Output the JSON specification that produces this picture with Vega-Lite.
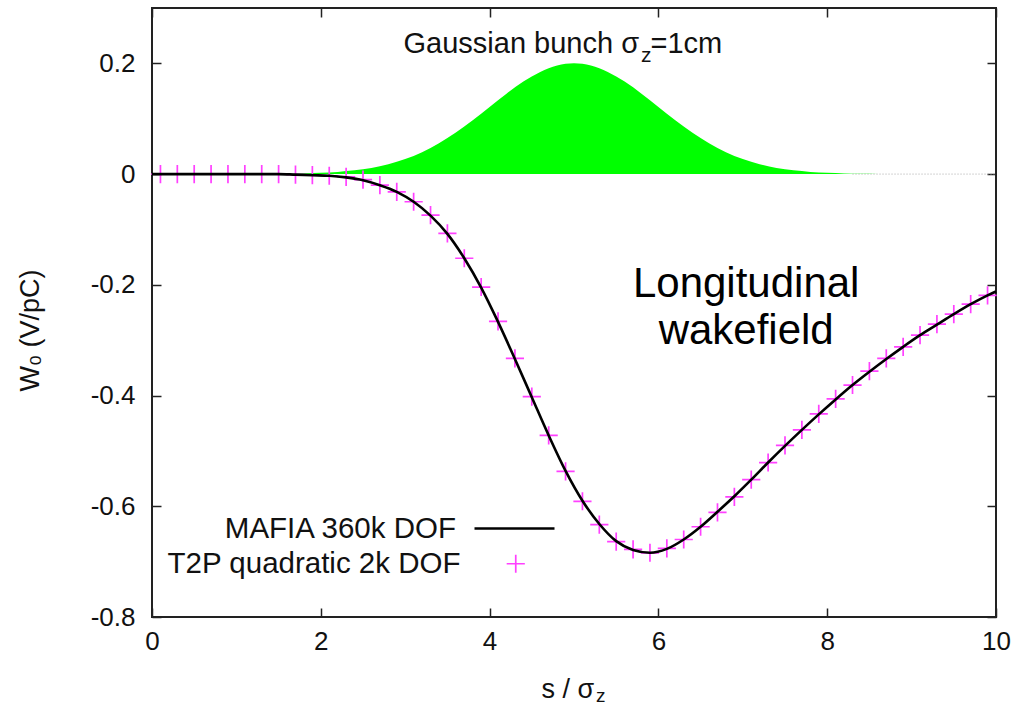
{
  "$schema": "https://vega.github.io/schema/vega-lite/v6.json",
  "width": 844,
  "height": 609,
  "autosize": {"type": "none"},
  "padding": {"left": 152, "top": 8, "right": 36, "bottom": 88},
  "background": "white",
  "datasets": {
    "bunch": [
      {"s": 0, "q": 0}, {"s": 0.4, "q": 0}, {"s": 0.8, "q": 0}, {"s": 1.0, "q": 0.00003},
      {"s": 1.2, "q": 0.00015}, {"s": 1.4, "q": 0.0003}, {"s": 1.6, "q": 0.0006}, {"s": 1.8, "q": 0.0012},
      {"s": 2.0, "q": 0.0022}, {"s": 2.2, "q": 0.0040}, {"s": 2.4, "q": 0.0068}, {"s": 2.6, "q": 0.0112},
      {"s": 2.8, "q": 0.0178}, {"s": 3.0, "q": 0.0271}, {"s": 3.2, "q": 0.0396}, {"s": 3.4, "q": 0.0556},
      {"s": 3.6, "q": 0.0751}, {"s": 3.8, "q": 0.0974}, {"s": 4.0, "q": 0.1213}, {"s": 4.2, "q": 0.1452},
      {"s": 4.4, "q": 0.1671}, {"s": 4.6, "q": 0.1846}, {"s": 4.8, "q": 0.1960}, {"s": 5.0, "q": 0.2},
      {"s": 5.2, "q": 0.1960}, {"s": 5.4, "q": 0.1846}, {"s": 5.6, "q": 0.1671}, {"s": 5.8, "q": 0.1452},
      {"s": 6.0, "q": 0.1213}, {"s": 6.2, "q": 0.0974}, {"s": 6.4, "q": 0.0751}, {"s": 6.6, "q": 0.0556},
      {"s": 6.8, "q": 0.0396}, {"s": 7.0, "q": 0.0271}, {"s": 7.2, "q": 0.0178}, {"s": 7.4, "q": 0.0112},
      {"s": 7.6, "q": 0.0068}, {"s": 7.8, "q": 0.0040}, {"s": 8.0, "q": 0.0022}, {"s": 8.2, "q": 0.0012},
      {"s": 8.4, "q": 0.0006}, {"s": 8.6, "q": 0.0003}, {"s": 8.8, "q": 0.00015}, {"s": 9.0, "q": 0.00003},
      {"s": 9.4, "q": 0}, {"s": 10.0, "q": 0}
    ],
    "mafia": [
      {"s": 0, "w": 0, "series": "MAFIA 360k DOF"}, {"s": 0.5, "w": 0, "series": "MAFIA 360k DOF"},
      {"s": 1.0, "w": 0, "series": "MAFIA 360k DOF"}, {"s": 1.5, "w": 0, "series": "MAFIA 360k DOF"},
      {"s": 1.7, "w": -0.001, "series": "MAFIA 360k DOF"}, {"s": 1.9, "w": -0.002, "series": "MAFIA 360k DOF"},
      {"s": 2.1, "w": -0.003, "series": "MAFIA 360k DOF"}, {"s": 2.3, "w": -0.006, "series": "MAFIA 360k DOF"},
      {"s": 2.5, "w": -0.011, "series": "MAFIA 360k DOF"}, {"s": 2.7, "w": -0.020, "series": "MAFIA 360k DOF"},
      {"s": 2.9, "w": -0.032, "series": "MAFIA 360k DOF"}, {"s": 3.1, "w": -0.050, "series": "MAFIA 360k DOF"},
      {"s": 3.3, "w": -0.075, "series": "MAFIA 360k DOF"}, {"s": 3.5, "w": -0.108, "series": "MAFIA 360k DOF"},
      {"s": 3.7, "w": -0.152, "series": "MAFIA 360k DOF"}, {"s": 3.9, "w": -0.205, "series": "MAFIA 360k DOF"},
      {"s": 4.1, "w": -0.267, "series": "MAFIA 360k DOF"}, {"s": 4.3, "w": -0.334, "series": "MAFIA 360k DOF"},
      {"s": 4.5, "w": -0.403, "series": "MAFIA 360k DOF"}, {"s": 4.7, "w": -0.472, "series": "MAFIA 360k DOF"},
      {"s": 4.9, "w": -0.536, "series": "MAFIA 360k DOF"}, {"s": 5.1, "w": -0.590, "series": "MAFIA 360k DOF"},
      {"s": 5.3, "w": -0.632, "series": "MAFIA 360k DOF"}, {"s": 5.5, "w": -0.663, "series": "MAFIA 360k DOF"},
      {"s": 5.7, "w": -0.679, "series": "MAFIA 360k DOF"}, {"s": 5.9, "w": -0.684, "series": "MAFIA 360k DOF"},
      {"s": 6.1, "w": -0.677, "series": "MAFIA 360k DOF"}, {"s": 6.3, "w": -0.660, "series": "MAFIA 360k DOF"},
      {"s": 6.5, "w": -0.637, "series": "MAFIA 360k DOF"}, {"s": 6.7, "w": -0.610, "series": "MAFIA 360k DOF"},
      {"s": 6.9, "w": -0.582, "series": "MAFIA 360k DOF"}, {"s": 7.1, "w": -0.552, "series": "MAFIA 360k DOF"},
      {"s": 7.3, "w": -0.521, "series": "MAFIA 360k DOF"}, {"s": 7.5, "w": -0.491, "series": "MAFIA 360k DOF"},
      {"s": 7.7, "w": -0.462, "series": "MAFIA 360k DOF"}, {"s": 7.9, "w": -0.434, "series": "MAFIA 360k DOF"},
      {"s": 8.1, "w": -0.407, "series": "MAFIA 360k DOF"}, {"s": 8.3, "w": -0.381, "series": "MAFIA 360k DOF"},
      {"s": 8.5, "w": -0.357, "series": "MAFIA 360k DOF"}, {"s": 8.7, "w": -0.334, "series": "MAFIA 360k DOF"},
      {"s": 8.9, "w": -0.312, "series": "MAFIA 360k DOF"}, {"s": 9.1, "w": -0.291, "series": "MAFIA 360k DOF"},
      {"s": 9.3, "w": -0.272, "series": "MAFIA 360k DOF"}, {"s": 9.5, "w": -0.253, "series": "MAFIA 360k DOF"},
      {"s": 9.7, "w": -0.235, "series": "MAFIA 360k DOF"}, {"s": 9.9, "w": -0.219, "series": "MAFIA 360k DOF"},
      {"s": 10.0, "w": -0.212, "series": "MAFIA 360k DOF"}
    ],
    "t2p": [
      {"s": 0.1, "w": 0, "series": "T2P quadratic 2k DOF"}, {"s": 0.3, "w": 0, "series": "T2P quadratic 2k DOF"},
      {"s": 0.5, "w": 0, "series": "T2P quadratic 2k DOF"}, {"s": 0.7, "w": 0, "series": "T2P quadratic 2k DOF"},
      {"s": 0.9, "w": 0, "series": "T2P quadratic 2k DOF"}, {"s": 1.1, "w": 0, "series": "T2P quadratic 2k DOF"},
      {"s": 1.3, "w": 0, "series": "T2P quadratic 2k DOF"}, {"s": 1.5, "w": 0, "series": "T2P quadratic 2k DOF"},
      {"s": 1.7, "w": -0.001, "series": "T2P quadratic 2k DOF"}, {"s": 1.9, "w": -0.002, "series": "T2P quadratic 2k DOF"},
      {"s": 2.1, "w": -0.003, "series": "T2P quadratic 2k DOF"}, {"s": 2.3, "w": -0.005, "series": "T2P quadratic 2k DOF"},
      {"s": 2.5, "w": -0.010, "series": "T2P quadratic 2k DOF"}, {"s": 2.7, "w": -0.020, "series": "T2P quadratic 2k DOF"},
      {"s": 2.9, "w": -0.032, "series": "T2P quadratic 2k DOF"}, {"s": 3.1, "w": -0.050, "series": "T2P quadratic 2k DOF"},
      {"s": 3.3, "w": -0.074, "series": "T2P quadratic 2k DOF"}, {"s": 3.5, "w": -0.107, "series": "T2P quadratic 2k DOF"},
      {"s": 3.7, "w": -0.152, "series": "T2P quadratic 2k DOF"}, {"s": 3.9, "w": -0.204, "series": "T2P quadratic 2k DOF"},
      {"s": 4.1, "w": -0.266, "series": "T2P quadratic 2k DOF"}, {"s": 4.3, "w": -0.333, "series": "T2P quadratic 2k DOF"},
      {"s": 4.5, "w": -0.402, "series": "T2P quadratic 2k DOF"}, {"s": 4.7, "w": -0.472, "series": "T2P quadratic 2k DOF"},
      {"s": 4.9, "w": -0.537, "series": "T2P quadratic 2k DOF"}, {"s": 5.1, "w": -0.591, "series": "T2P quadratic 2k DOF"},
      {"s": 5.3, "w": -0.633, "series": "T2P quadratic 2k DOF"}, {"s": 5.5, "w": -0.664, "series": "T2P quadratic 2k DOF"},
      {"s": 5.7, "w": -0.678, "series": "T2P quadratic 2k DOF"}, {"s": 5.9, "w": -0.684, "series": "T2P quadratic 2k DOF"},
      {"s": 6.1, "w": -0.676, "series": "T2P quadratic 2k DOF"}, {"s": 6.3, "w": -0.660, "series": "T2P quadratic 2k DOF"},
      {"s": 6.5, "w": -0.637, "series": "T2P quadratic 2k DOF"}, {"s": 6.7, "w": -0.611, "series": "T2P quadratic 2k DOF"},
      {"s": 6.9, "w": -0.583, "series": "T2P quadratic 2k DOF"}, {"s": 7.1, "w": -0.552, "series": "T2P quadratic 2k DOF"},
      {"s": 7.3, "w": -0.521, "series": "T2P quadratic 2k DOF"}, {"s": 7.5, "w": -0.490, "series": "T2P quadratic 2k DOF"},
      {"s": 7.7, "w": -0.462, "series": "T2P quadratic 2k DOF"}, {"s": 7.9, "w": -0.433, "series": "T2P quadratic 2k DOF"},
      {"s": 8.1, "w": -0.406, "series": "T2P quadratic 2k DOF"}, {"s": 8.3, "w": -0.381, "series": "T2P quadratic 2k DOF"},
      {"s": 8.5, "w": -0.356, "series": "T2P quadratic 2k DOF"}, {"s": 8.7, "w": -0.333, "series": "T2P quadratic 2k DOF"},
      {"s": 8.9, "w": -0.312, "series": "T2P quadratic 2k DOF"}, {"s": 9.1, "w": -0.291, "series": "T2P quadratic 2k DOF"},
      {"s": 9.3, "w": -0.271, "series": "T2P quadratic 2k DOF"}, {"s": 9.5, "w": -0.253, "series": "T2P quadratic 2k DOF"},
      {"s": 9.7, "w": -0.235, "series": "T2P quadratic 2k DOF"}, {"s": 9.9, "w": -0.219, "series": "T2P quadratic 2k DOF"}
    ],
    "one": [{}]
  },
  "resolve": {"axis": {"x": "independent", "y": "independent"}},
  "layer": [
    {
      "data": {"name": "bunch"},
      "mark": {"type": "area", "color": "#00ff00", "opacity": 1, "interpolate": "monotone"},
      "encoding": {
        "x": {"field": "s", "type": "quantitative",
              "scale": {"domain": [0, 10], "nice": false, "zero": false},
              "axis": {"orient": "bottom", "values": [0, 2, 4, 6, 8, 10], "title": "s / σ",
                       "titleX": 389, "titleY": 80, "titleAlign": "left", "titleBaseline": "alphabetic",
                       "labelPadding": 20, "labelFlush": false}},
        "y": {"field": "q", "type": "quantitative",
              "scale": {"domain": [-0.8, 0.3], "nice": false, "zero": false},
              "axis": {"orient": "left", "values": [-0.8, -0.6, -0.4, -0.2, 0, 0.2], "title": "W₀ (V/pC)",
                       "labelExpr": "toString(round(datum.value*10)/10)",
                       "titleX": -122, "titleY": 322, "titleAngle": 270, "titleAlign": "center", "titleBaseline": "middle",
                       "labelPadding": 26, "labelFlush": false}},
        "y2": {"datum": 0}
      }
    },
    {
      "data": {"name": "one"},
      "mark": {"type": "rule", "color": "#a8a8a8", "strokeWidth": 1, "strokeDash": [1, 2]},
      "encoding": {"x": {"datum": 8.3, "type": "quantitative", "axis": null},
                   "x2": {"datum": 10},
                   "y": {"datum": 0, "type": "quantitative", "axis": null}}
    },
    {
      "data": {"name": "t2p"},
      "mark": {"type": "point", "filled": false, "stroke": "#ff40ff", "strokeWidth": 1.7, "size": 330, "opacity": 1},
      "encoding": {
        "x": {"field": "s", "type": "quantitative",
              "axis": {"orient": "top", "values": [0, 2, 4, 6, 8, 10], "labels": false, "title": null}},
        "y": {"field": "w", "type": "quantitative",
              "axis": {"orient": "right", "values": [-0.8, -0.6, -0.4, -0.2, 0, 0.2], "labels": false, "title": null}},
        "shape": {"field": "series", "type": "nominal",
                  "scale": {"domain": ["T2P quadratic 2k DOF"], "range": ["M-1,0L1,0M0,-1L0,1"]},
                  "legend": {"orient": "none", "legendX": 349, "legendY": 541, "title": null,
                             "symbolStrokeColor": "#ff40ff", "symbolFillColor": "transparent", "symbolStrokeWidth": 1.7,
                             "symbolSize": 330, "labelAlign": "right", "labelOffset": -70, "labelFontSize": 29.5,
                             "labelLimit": 500, "labelFont": "Liberation Sans", "labelColor": "#111", "padding": 0}}
      }
    },
    {
      "data": {"name": "mafia"},
      "mark": {"type": "line", "strokeWidth": 2.6, "interpolate": "monotone"},
      "encoding": {
        "x": {"field": "s", "type": "quantitative", "axis": null},
        "y": {"field": "w", "type": "quantitative", "axis": null},
        "color": {"field": "series", "type": "nominal",
                  "scale": {"domain": ["MAFIA 360k DOF"], "range": ["#000000"]},
                  "legend": {"orient": "none", "legendX": 321, "legendY": 479, "title": null,
                             "symbolType": "stroke", "symbolSize": 6400, "symbolStrokeWidth": 2.6,
                             "labelAlign": "right", "labelOffset": -100, "labelFontSize": 29.5, "labelLimit": 500,
                             "labelFont": "Liberation Sans", "labelColor": "#111", "padding": 0}}
      }
    },
    {
      "data": {"name": "one"},
      "mark": {"type": "text", "text": "Gaussian bunch σ", "align": "left", "baseline": "alphabetic",
               "fontSize": 29, "font": "Liberation Sans", "color": "#111"},
      "encoding": {"x": {"datum": 2.98, "type": "quantitative", "axis": null},
                   "y": {"datum": 0.218, "type": "quantitative", "axis": null}}
    },
    {
      "data": {"name": "one"},
      "mark": {"type": "text", "text": "z", "align": "left", "baseline": "alphabetic",
               "fontSize": 21, "font": "Liberation Sans", "color": "#111"},
      "encoding": {"x": {"datum": 5.794, "type": "quantitative", "axis": null},
                   "y": {"datum": 0.203, "type": "quantitative", "axis": null}}
    },
    {
      "data": {"name": "one"},
      "mark": {"type": "text", "text": "=1cm", "align": "left", "baseline": "alphabetic",
               "fontSize": 29, "font": "Liberation Sans", "color": "#111"},
      "encoding": {"x": {"datum": 5.906, "type": "quantitative", "axis": null},
                   "y": {"datum": 0.218, "type": "quantitative", "axis": null}}
    },
    {
      "data": {"name": "one"},
      "mark": {"type": "text", "text": ["Longitudinal", "wakefield"], "align": "center", "baseline": "alphabetic",
               "fontSize": 42, "lineHeight": 47, "font": "Liberation Sans", "color": "#000"},
      "encoding": {"x": {"datum": 7.04, "type": "quantitative", "axis": null},
                   "y": {"datum": -0.222, "type": "quantitative", "axis": null}}
    },
    {
      "data": {"name": "one"},
      "mark": {"type": "text", "text": "z", "align": "left", "baseline": "alphabetic",
               "fontSize": 19, "font": "Liberation Sans", "color": "#111"},
      "encoding": {"x": {"datum": 5.26, "type": "quantitative", "axis": null},
                   "y": {"datum": -0.954, "type": "quantitative", "axis": null}}
    }
  ],
  "config": {
    "view": {"stroke": "#222", "strokeWidth": 2},
    "axis": {"grid": false, "domain": false, "ticks": true, "tickColor": "#222", "tickWidth": 1.5, "tickSize": -9,
             "labelFont": "Liberation Sans", "labelFontSize": 26, "labelColor": "#111",
             "titleFont": "Liberation Sans", "titleFontSize": 27, "titleFontWeight": "normal", "titleColor": "#111"},
    "legend": {"labelFont": "Liberation Sans"}
  }
}
